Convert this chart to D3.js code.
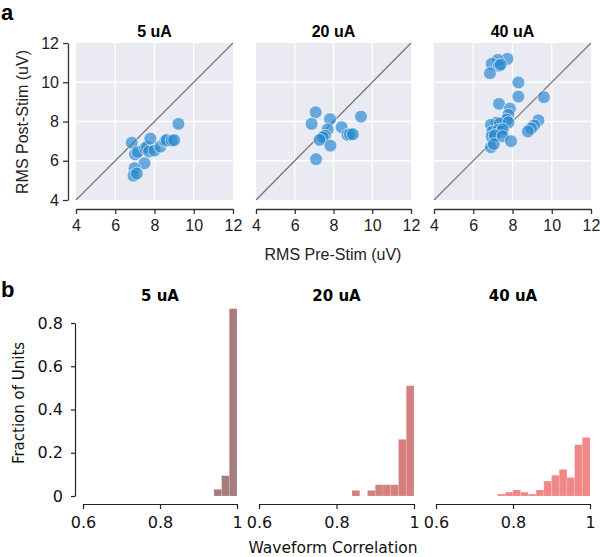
<!DOCTYPE html>
<html><head><meta charset="utf-8">
<script src="https://cdn.jsdelivr.net/npm/d3@7"></script>
<style>body{margin:0;background:#fff}svg{display:block}</style>
</head><body>
<svg id="c" width="600" height="557"></svg>
<script>
// ---- data ----
const scatterTitles = ["5 uA", "20 uA", "40 uA"];
const rmsTicks = [4, 6, 8, 10, 12];
const pre5  = [6.84,7.01,7.15,7.52,7.62,7.79,7.72,8.00,8.30,8.55,8.62,8.88,9.00,9.22,7.49,6.98,6.93,7.10];
const post5 = [6.92,6.33,6.45,6.64,6.70,7.13,6.47,6.52,6.72,7.00,7.06,7.03,7.05,7.88,5.87,5.62,5.24,5.35];
const pre20  = [7.08,6.87,7.82,9.42,8.42,7.70,7.56,7.45,7.28,7.84,8.72,8.85,9.00,7.10];
const post20 = [8.47,7.88,8.12,8.25,7.71,7.60,7.27,7.20,7.06,6.77,7.32,7.35,7.35,6.08];
const pre40  = [7.74,7.25,6.94,7.31,7.40,6.85,8.30,8.30,9.60,7.31,7.87,7.79,7.70,7.19,6.90,7.35,7.79,6.97,7.28,7.43,7.50,6.94,7.10,7.50,6.90,7.05,7.92,9.32,9.10,8.95,8.78];
const post40 = [11.19,11.14,10.94,10.84,10.90,10.46,9.99,9.27,9.24,8.90,8.66,8.34,8.10,7.94,7.83,7.90,7.95,7.48,7.57,7.48,7.60,7.23,7.30,7.25,6.69,6.85,7.00,8.06,7.80,7.65,7.49];

const histTitles = ["5 uA", "20 uA", "40 uA"];
const corrTicks = [0.6, 0.8, 1];
const fracTicks = [0, 0.2, 0.4, 0.6, 0.8];
const binStart5  = [0.94, 0.96, 0.98];
const frac5      = [0.031, 0.094, 0.866];
const binStart20 = [0.84, 0.88, 0.90, 0.92, 0.94, 0.96, 0.98];
const frac20     = [0.026, 0.026, 0.052, 0.052, 0.052, 0.262, 0.510];
const binStart40 = [0.76, 0.78, 0.80, 0.82, 0.84, 0.86, 0.88, 0.90, 0.92, 0.94, 0.96, 0.98];
const frac40     = [0.009, 0.018, 0.028, 0.018, 0.009, 0.028, 0.069, 0.096, 0.123, 0.086, 0.237, 0.271];
const binWidth = 0.02;

// ---- drawing ----
const svg = d3.select("#c");
const helv = "'Liberation Sans', Arial, sans-serif";
const dejavu = "'DejaVu Sans', sans-serif";

svg.append("text").attr("x", 1).attr("y", 20).attr("font-family", helv)
  .attr("font-weight", "bold").attr("font-size", 22).text("a");
svg.append("text").attr("x", 1).attr("y", 297).attr("font-family", helv)
  .attr("font-weight", "bold").attr("font-size", 22).text("b");

const scatterData = [[pre5, post5], [pre20, post20], [pre40, post40]];
const scatterX = [[76, 233], [256, 411], [434, 591]];
const yS = d3.scaleLinear().domain([4, 12]).range([200, 43]);

scatterData.forEach((d, i) => {
  const x = d3.scaleLinear().domain([4, 12]).range(scatterX[i]);
  const g = svg.append("g");
  g.append("rect").attr("x", x(4)).attr("y", yS(12)).attr("width", x(12) - x(4))
    .attr("height", yS(4) - yS(12)).attr("fill", "#eaeaf2");
  [6, 8, 10].forEach(t => {
    g.append("line").attr("x1", x(t)).attr("x2", x(t)).attr("y1", yS(12)).attr("y2", yS(4))
      .attr("stroke", "#fff").attr("stroke-width", 1.3);
    g.append("line").attr("x1", x(4)).attr("x2", x(12)).attr("y1", yS(t)).attr("y2", yS(t))
      .attr("stroke", "#fff").attr("stroke-width", 1.3);
  });
  g.append("line").attr("x1", x(4)).attr("y1", yS(4)).attr("x2", x(12)).attr("y2", yS(12))
    .attr("stroke", "#707070").attr("stroke-width", 1.1);
  const pts = d[0].map((v, k) => [v, d[1][k]]);
  g.selectAll("circle").data(pts).join("circle")
    .attr("cx", p => x(p[0])).attr("cy", p => yS(p[1])).attr("r", 6.4)
    .attr("fill", "#2a87d0").attr("fill-opacity", 0.68)
    .attr("stroke", "#ffffff").attr("stroke-opacity", 0.6).attr("stroke-width", 1);

  const xa = g.append("g").attr("transform", "translate(0,209)")
    .call(d3.axisBottom(x).tickValues(rmsTicks).tickSize(5).tickSizeOuter(0).tickPadding(6));
  xa.select(".domain").attr("stroke", "#333").attr("stroke-width", 1.3);
  xa.selectAll(".tick line").attr("stroke", "#333").attr("stroke-width", 1.3);
  xa.selectAll("text").attr("font-family", helv).attr("font-size", 16).attr("fill", "#222");
  if (i === 0) {
    const ya = g.append("g").attr("transform", "translate(68,0)")
      .call(d3.axisLeft(yS).tickValues(rmsTicks).tickSize(5).tickSizeOuter(0).tickPadding(4));
    ya.select(".domain").attr("stroke", "#333").attr("stroke-width", 1.3);
    ya.selectAll(".tick line").attr("stroke", "#333").attr("stroke-width", 1.3);
    ya.selectAll("text").attr("font-family", helv).attr("font-size", 16).attr("fill", "#222");
  }
  g.append("text").attr("x", (x(4) + x(12)) / 2).attr("y", 37).attr("text-anchor", "middle")
    .attr("font-family", helv).attr("font-weight", "bold").attr("font-size", 16).text(scatterTitles[i]);
});
svg.append("text").attr("x", 333).attr("y", 260).attr("text-anchor", "middle")
  .attr("font-family", helv).attr("font-size", 16).attr("fill", "#222").text("RMS Pre-Stim (uV)");
svg.append("text").attr("transform", "translate(28,122) rotate(-90)").attr("text-anchor", "middle")
  .attr("font-family", helv).attr("font-size", 16).attr("fill", "#222").text("RMS Post-Stim (uV)");

// histograms
const histData = [[binStart5, frac5], [binStart20, frac20], [binStart40, frac40]];
const histX = [[83, 237], [259, 414], [436, 590]];
const histColors = ["#a67c7c", "#d47f80", "#f08788"];
const yH = d3.scaleLinear().domain([0, 0.8]).range([496, 323]);

histData.forEach((d, i) => {
  const x = d3.scaleLinear().domain([0.6, 1]).range(histX[i]);
  const g = svg.append("g");
  const bins = d[0].map((b, k) => [b, d[1][k]]);
  g.selectAll("rect").data(bins).join("rect")
    .attr("x", b => x(b[0])).attr("width", b => x(b[0] + binWidth) - x(b[0]))
    .attr("y", b => yH(b[1])).attr("height", b => yH(0) - yH(b[1]))
    .attr("fill", histColors[i]).attr("stroke", "#ffffff").attr("stroke-opacity", 0.25).attr("stroke-width", 0.6);
  const xa = g.append("g").attr("transform", "translate(0,504)")
    .call(d3.axisBottom(x).tickValues(corrTicks).tickFormat(d3.format("")).tickSize(5).tickSizeOuter(0).tickPadding(8));
  xa.select(".domain").attr("stroke", "#222").attr("stroke-width", 1.2);
  xa.selectAll(".tick line").attr("stroke", "#222").attr("stroke-width", 1.2);
  xa.selectAll("text").attr("font-family", dejavu).attr("font-size", 16).attr("fill", "#111");
  if (i === 0) {
    const ya = g.append("g").attr("transform", "translate(75,0)")
      .call(d3.axisLeft(yH).tickValues(fracTicks).tickFormat(d3.format("")).tickSize(4).tickSizeOuter(0).tickPadding(8));
    ya.select(".domain").attr("stroke", "#222").attr("stroke-width", 1.2);
    ya.selectAll(".tick line").attr("stroke", "#222").attr("stroke-width", 1.2);
    ya.selectAll("text").attr("font-family", dejavu).attr("font-size", 16).attr("fill", "#111");
  }
  g.append("text").attr("x", (histX[i][0] + histX[i][1]) / 2).attr("y", 301).attr("text-anchor", "middle")
    .attr("font-family", dejavu).attr("font-weight", "bold").attr("font-size", 15).text(histTitles[i]);
});
svg.append("text").attr("x", 333).attr("y", 553).attr("text-anchor", "middle")
  .attr("font-family", dejavu).attr("font-size", 15.5).attr("fill", "#111").text("Waveform Correlation");
svg.append("text").attr("transform", "translate(24,403) rotate(-90)").attr("text-anchor", "middle")
  .attr("font-family", dejavu).attr("font-size", 15).attr("fill", "#111").text("Fraction of Units");
</script>
</body></html>
